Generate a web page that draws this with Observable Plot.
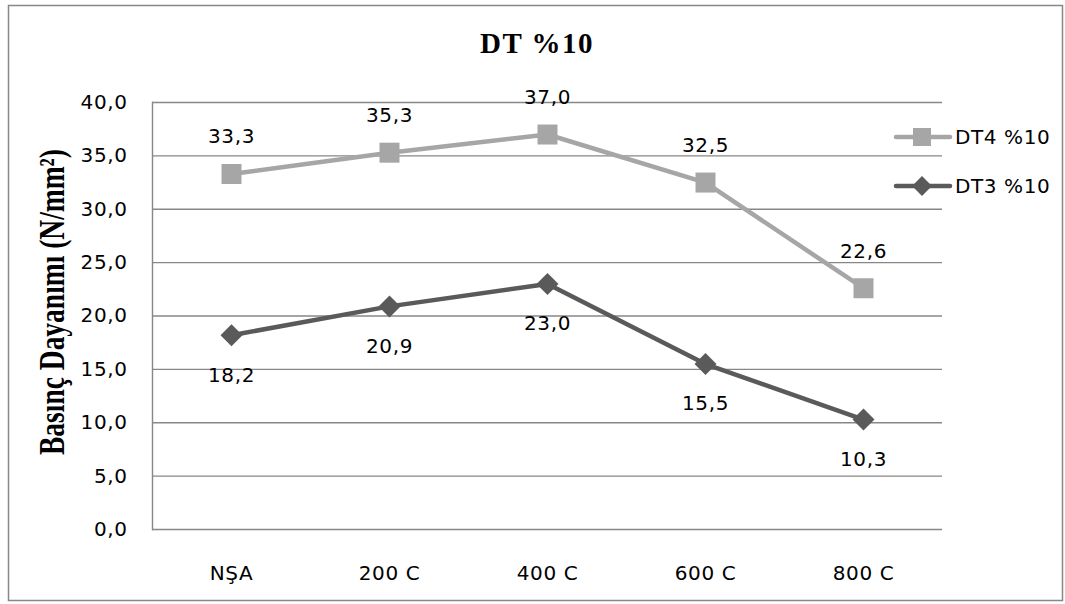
<!DOCTYPE html>
<html>
<head>
<meta charset="utf-8">
<script src="https://cdn.jsdelivr.net/npm/d3@7"></script>
<script src="https://cdn.jsdelivr.net/npm/@observablehq/plot@0.6"></script>
<style>
  body { margin: 0; background: #fff; }
  #wrap { position: relative; width: 1065px; height: 604px; }
  #wrap > svg.overlay { position: absolute; left: 0; top: 0; pointer-events: none; }
  #wrap text { letter-spacing: 0.6px; }
</style>
</head>
<body>
<div id="wrap"></div>
<script>
// Compressive strength by treatment temperature
const categories = ["NŞA", "200 C", "400 C", "600 C", "800 C"];
const dt4Values = [33.3, 35.3, 37.0, 32.5, 22.6];
const dt3Values = [18.2, 20.9, 23.0, 15.5, 10.3];
const seriesNames = ["DT4 %10", "DT3 %10"];
const seriesColors = ["#a6a6a6", "#5a5a5a"];
const yTicks = [0, 5, 10, 15, 20, 25, 30, 35, 40];
const titleText = "DT %10";
const yLabel = "Basınç Dayanımı (N/mm²)";

const rowsDT4 = categories.map((c, i) => ({cat: c, value: dt4Values[i], series: seriesNames[0]}));
const rowsDT3 = categories.map((c, i) => ({cat: c, value: dt3Values[i], series: seriesNames[1]}));

// Decimal comma formatting
const fmt = d3.formatLocale({decimal: ",", thousands: ".", grouping: [3], currency: ["", ""]}).format(".1f");

// Marker shapes: filled square and a square turned 45°
const squareSym = {draw(ctx) { const h = 10; ctx.rect(-h, -h, 2 * h, 2 * h); }};
const diamondSym = {draw(ctx) { const h = 11; ctx.moveTo(0, -h); ctx.lineTo(h, 0); ctx.lineTo(0, h); ctx.lineTo(-h, 0); ctx.closePath(); }};

const tickFont = "DejaVu Sans, sans-serif";
const fs = 20;

const chart = Plot.plot({
  width: 1065,
  height: 604,
  marginTop: 102,
  marginBottom: 75,
  marginLeft: 152,
  marginRight: 123,
  style: {fontFamily: tickFont, fontSize: fs + "px", color: "#000", background: "transparent"},
  x: {type: "point", domain: categories, padding: 0.5, label: null},
  y: {domain: [0, 40], label: null},
  marks: [
    Plot.gridY(yTicks, {stroke: "#878787", strokeOpacity: 1, strokeWidth: 1.4}),
    Plot.frame({anchor: "left", stroke: "#878787", strokeWidth: 1.4}),
    Plot.axisY(yTicks, {tickSize: 0, tickPadding: 25, tickFormat: fmt, fontSize: fs, fill: "#000", label: null}),
    Plot.axisX({tickSize: 0, tickPadding: 36, fontSize: fs, fill: "#000", label: null}),
    Plot.line(rowsDT4, {x: "cat", y: "value", stroke: seriesColors[0], strokeWidth: 4.5}),
    Plot.line(rowsDT3, {x: "cat", y: "value", stroke: seriesColors[1], strokeWidth: 4.5}),
    Plot.dot(rowsDT4, {x: "cat", y: "value", symbol: squareSym, r: 10, fill: seriesColors[0], stroke: "none"}),
    Plot.dot(rowsDT3, {x: "cat", y: "value", symbol: diamondSym, r: 10, fill: seriesColors[1], stroke: "none"}),
    Plot.text(rowsDT4, {x: "cat", y: "value", text: d => fmt(d.value), dy: -37, fontSize: fs, fill: "#000"}),
    Plot.text(rowsDT3, {x: "cat", y: "value", text: d => fmt(d.value), dy: 40, fontSize: fs, fill: "#000"})
  ]
});

const wrap = document.getElementById("wrap");
wrap.appendChild(chart);

// Border, title, axis title and legend drawn around the plot
const ov = d3.create("svg").attr("class", "overlay").attr("width", 1065).attr("height", 604);
ov.append("rect").attr("x", 8.5).attr("y", 5.5).attr("width", 1054).attr("height", 595)
  .attr("fill", "none").attr("stroke", "#878787").attr("stroke-width", 1.5);
ov.append("text").attr("x", 537).attr("y", 53).attr("text-anchor", "middle")
  .attr("font-family", "Liberation Serif, serif").attr("font-weight", "bold").attr("font-size", 29)
  .style("letter-spacing", "1.5px").text(titleText);
ov.append("text").attr("transform", "translate(64,302) rotate(-90) scale(1,1.3)").attr("text-anchor", "middle")
  .attr("font-family", "Liberation Serif, serif").attr("font-weight", "bold").attr("font-size", 27.5)
  .style("letter-spacing", "0px").text(yLabel);

const legendRows = [
  {name: seriesNames[0], color: seriesColors[0], sym: squareSym, y: 137},
  {name: seriesNames[1], color: seriesColors[1], sym: diamondSym, y: 186}
];
for (const r of legendRows) {
  const g = ov.append("g");
  g.append("line").attr("x1", 896).attr("x2", 950).attr("y1", r.y).attr("y2", r.y)
    .attr("stroke", r.color).attr("stroke-width", 4.5).attr("stroke-linecap", "round");
  const p = d3.path(); r.sym.draw(p);
  g.append("path").attr("d", p.toString()).attr("transform", `translate(922,${r.y}) scale(0.9)`).attr("fill", r.color);
  g.append("text").attr("x", 955).attr("y", r.y).attr("dy", "0.36em")
    .attr("font-family", tickFont).attr("font-size", fs).attr("fill", "#000").text(r.name);
}
wrap.appendChild(ov.node());
</script>
</body>
</html>
